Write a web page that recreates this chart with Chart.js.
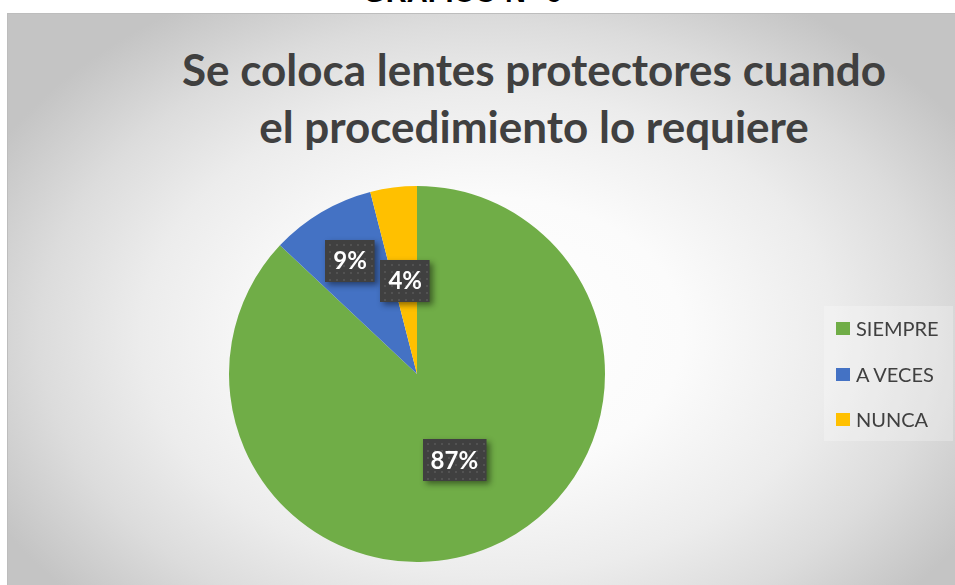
<!DOCTYPE html>
<html>
<head>
<meta charset="utf-8">
<script src="https://cdn.jsdelivr.net/npm/chart.js@4.4.0/dist/chart.umd.min.js"></script>
<style>
  html, body { margin: 0; padding: 0; background: #fff; width: 955px; height: 585px; overflow: hidden; }
  #heading { position: absolute; left: 0; width: 925px; top: -24px; text-align: center;
    font: bold 29px "Liberation Sans", Arial, sans-serif; color: #000; }
  #panel { position: absolute; left: 7px; top: 13px; width: 1000px; height: 600px;
    border: 1px solid #bdbdbd;
    background: radial-gradient(ellipse 560px 390px at 480px 320px, #ffffff 0%, #fbfbfb 35%, #ececec 62%, #dcdcdc 80%, #c4c4c4 100%); }
  #title { position: absolute; left: 84px; width: 900px; top: 41px; text-align: center;
    font: bold 44px Lato, sans-serif; color: #404040; line-height: 57px; }
  #chart { position: absolute; left: 0; top: 0; }
  #legend { position: absolute; left: 824px; top: 306px; width: 129px; height: 135px;
    background: rgba(255,255,255,0.25); }
  .item { position: absolute; left: 12px; height: 20px; font: 20px Lato, sans-serif; color: #404040; white-space: nowrap; }
  .item span.sw { position: absolute; left: 0; top: 4px; width: 14px; height: 13px; }
  .item span.tx { position: absolute; left: 20px; top: -2px; }
</style>
</head>
<body>
<div id="heading">GRÁFICO N° 6</div>
<div id="panel"></div>
<div id="title">Se coloca lentes protectores cuando<br>el procedimiento lo requiere</div>
<canvas id="chart" width="955" height="585"></canvas>
<div id="legend"></div>
<script>
var categorias = ["SIEMPRE", "A VECES", "NUNCA"];
var valores = [87, 9, 4];
var colores = ["#70ad47", "#4472c4", "#ffc000"];
// distancia de cada etiqueta desde el centro (fraccion del radio)
var posEtiqueta = [0.5, 0.7, 0.5];

// leyenda
var legend = document.getElementById('legend');
categorias.forEach(function (c, i) {
  var d = document.createElement('div');
  d.className = 'item';
  d.style.top = (12 + i * 45.5) + 'px';
  d.innerHTML = '<span class="sw" style="background:' + colores[i] + '"></span><span class="tx">' + c + '</span>';
  legend.appendChild(d);
});

var etiquetas = {
  id: 'etiquetas',
  afterDatasetsDraw: function (chart) {
    var ctx = chart.ctx;
    var meta = chart.getDatasetMeta(0);
    var data = chart.data.datasets[0].data;
    var total = data.reduce(function (a, b) { return a + b; }, 0);
    meta.data.forEach(function (arc, i) {
      var p = arc.getProps(['x', 'y', 'startAngle', 'endAngle', 'outerRadius'], true);
      var mid = (p.startAngle + p.endAngle) / 2;
      var r = p.outerRadius * posEtiqueta[i];
      var x = p.x + Math.cos(mid) * r;
      var y = p.y + Math.sin(mid) * r;
      var txt = Math.round(data[i] / total * 100) + '%';
      ctx.save();
      ctx.font = 'bold 24px Lato, sans-serif';
      var w = ctx.measureText(txt).width + 16;
      var h = 42;
      var bx = Math.round(x - w / 2), by = Math.round(y - h / 2);
      ctx.shadowColor = 'rgba(0,0,0,0.45)';
      ctx.shadowBlur = 6;
      ctx.shadowOffsetX = 3;
      ctx.shadowOffsetY = 3;
      ctx.fillStyle = '#404040';
      ctx.fillRect(bx, by, w, h);
      ctx.shadowColor = 'transparent';
      ctx.fillStyle = '#525252';
      for (var dx = 4; dx < w - 1; dx += 7) {
        for (var dy = 4; dy < h - 1; dy += 7) {
          ctx.fillRect(bx + dx, by + dy, 2, 2);
        }
      }
      ctx.fillStyle = '#ffffff';
      ctx.textAlign = 'center';
      ctx.textBaseline = 'middle';
      ctx.fillText(txt, x, y + 1);
      ctx.restore();
    });
  }
};

new Chart(document.getElementById('chart'), {
  type: 'pie',
  data: {
    labels: categorias,
    datasets: [{ data: valores, backgroundColor: colores, borderWidth: 0 }]
  },
  options: {
    responsive: false,
    animation: false,
    layout: { padding: { left: 229, right: 350, top: 186, bottom: 23 } },
    plugins: {
      legend: { display: false },
      title: { display: false },
      tooltip: { enabled: false }
    }
  },
  plugins: [etiquetas]
});
</script>
</body>
</html>
